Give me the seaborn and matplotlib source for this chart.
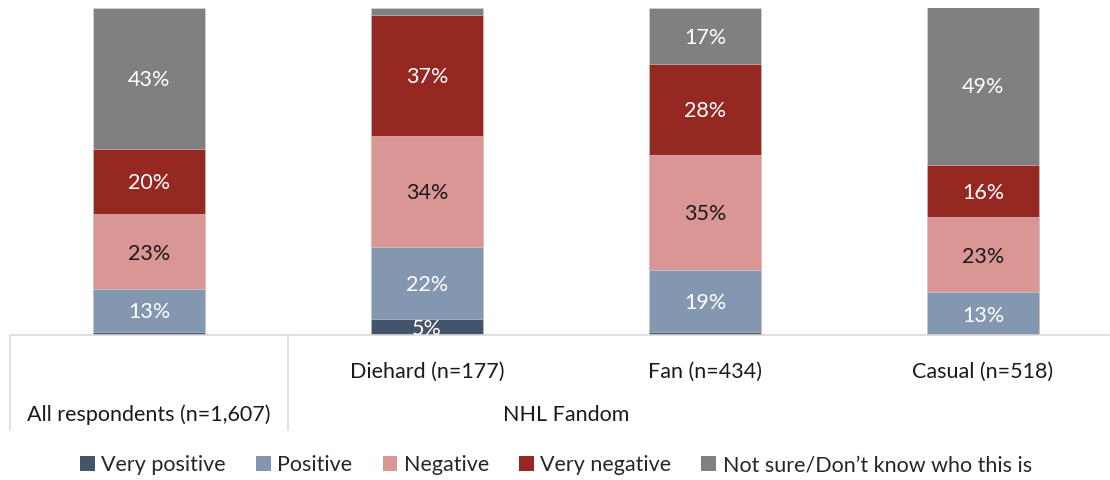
import matplotlib
matplotlib.use("Agg")
import matplotlib.pyplot as plt
import seaborn as sns
import pandas as pd
import numpy as np
from matplotlib.patches import Patch
from matplotlib.lines import Line2D

categories = ["All respondents (n=1,607)", "Diehard (n=177)", "Fan (n=434)", "Casual (n=518)"]
series = ["Very positive", "Positive", "Negative", "Very negative", "Not sure/Don\u2019t know who this is"]
very_positive = [1, 5, 1, 0]
positive = [13, 22, 19, 13]
negative = [23, 34, 35, 23]
very_negative = [20, 37, 28, 16]
not_sure = [43, 2, 17, 49]
group_label = "NHL Fandom"

colors = ["#44546A", "#8497B0", "#DA9694", "#962822", "#808080"]
text_colors = ["white", "white", "#1a1a1a", "white", "white"]

sns.set_theme(style="white")
plt.rcParams['font.family'] = ['Lato', 'DejaVu Sans']

FS = 15.5
vals = np.array([very_positive, positive, negative, very_negative, not_sure], dtype=float)
cum = np.cumsum(vals, axis=0)

fig = plt.figure(figsize=(11.1, 4.8), dpi=100)
ax = fig.add_axes([10 / 1110, 145 / 480, 1112 / 1110, 327 / 480])

keys = [f"c{i}" for i in range(len(categories))]
for k in range(len(series) - 1, -1, -1):
    df = pd.DataFrame({"cat": keys, "val": cum[k]})
    sns.barplot(data=df, x="cat", y="val", order=keys, color=colors[k], width=0.4,
                ax=ax, saturation=1, edgecolor="#d9d9d9", linewidth=0.4)

for k in range(len(series)):
    for i in range(len(categories)):
        v = vals[k, i]
        if v >= 4:
            y = cum[k, i] - v / 2
            ax.text(i, y, f"{int(v)}%", ha="center", va="center_baseline", fontsize=FS,
                    color=text_colors[k])

ax.set_xlim(-0.5, 3.5)
ax.set_ylim(0, 100)
ax.set_xticks([])
ax.set_yticks([])
ax.set_xlabel("")
ax.set_ylabel("")
for s in ["top", "right", "left"]:
    ax.spines[s].set_visible(False)
ax.spines["bottom"].set_color("#d9d9d9")
ax.spines["bottom"].set_linewidth(1.2)

# multi-level category axis
trans = ax.get_xaxis_transform()
for xb in [-0.5, 0.5]:
    ax.add_line(Line2D([xb, xb], [0, -95 / 327], transform=trans, color="#d9d9d9",
                       lw=1.2, clip_on=False))
for i in range(1, len(categories)):
    ax.text(i, -35 / 327, categories[i], transform=trans, ha="center", va="center_baseline",
            fontsize=FS, color="#1a1a1a")
ax.text(0, -78 / 327, categories[0], transform=trans, ha="center", va="center_baseline",
        fontsize=FS, color="#1a1a1a")
ax.text(1.5, -78 / 327, group_label, transform=trans, ha="center", va="center_baseline",
        fontsize=FS, color="#1a1a1a")

handles = [Patch(facecolor=c, edgecolor="none") for c in colors]
fig.legend(handles, series, loc="center", bbox_to_anchor=(556 / 1110, 15 / 480), ncol=5,
           frameon=False, fontsize=FS, handlelength=0.68, handleheight=0.68,
           handletextpad=0.3, columnspacing=1.4)

fig.savefig("out.png", dpi=100)
